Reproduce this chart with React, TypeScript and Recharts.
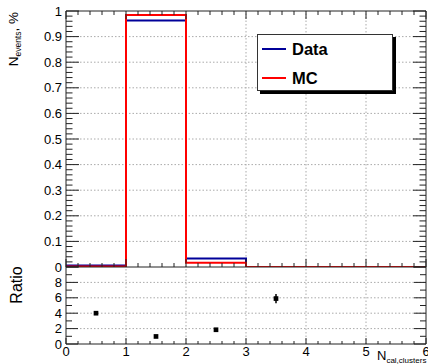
import React from 'react';
import { ComposedChart, Line, XAxis, YAxis, Scatter, ErrorBar, Legend, ZAxis, ReferenceLine } from 'recharts';

// ---- data ----
const binEdges = [0, 1, 2, 3, 4, 5, 6];
const dataValues = [0.006, 0.963, 0.033, 0.0002, 0, 0];
const mcValues = [0.0015, 0.984, 0.017, 0.00003, 0, 0];

const ratioX = [0.5, 1.5, 2.5, 3.5];
const ratioY = [4.0, 0.98, 1.85, 5.9];
const ratioErr = [0.1, 0.02, 0.08, 0.6];

const xMajorTicks = [0, 1, 2, 3, 4, 5, 6];
const topYLabels = ['0', '0.1', '0.2', '0.3', '0.4', '0.5', '0.6', '0.7', '0.8', '0.9', '1'];
const ratioYLabels = ['0', '2', '4', '6', '8'];
const gridX = [1, 2, 3, 4, 5];
const gridTopY = [0.1, 0.2, 0.3, 0.4, 0.5, 0.6, 0.7, 0.8, 0.9];
const gridRatioY = [2, 4, 6, 8];

const FONT = '"Liberation Sans", Arial, Helvetica, sans-serif';
const BLUE = '#000099';
const RED = '#ff0000';
const AXIS = '#222';
const GRID = '#aaa';

// tick positions (axis furniture)
const xMinorTicks = Array.from({ length: 31 }, (_, k) => Math.round(k * 20) / 100);
const topYTicks = Array.from({ length: 51 }, (_, k) => Math.round(k * 2) / 100);
const ratioYTicks = Array.from({ length: 11 }, (_, k) => k);

const histTable = binEdges.map((x, i) => ({
  x,
  data: dataValues[Math.min(i, dataValues.length - 1)],
  mc: mcValues[Math.min(i, mcValues.length - 1)],
}));
const ratioTable = ratioX.map((x, i) => ({ x, y: ratioY[i], err: ratioErr[i] }));

const near = (a: number, b: number) => Math.abs(a - b) < 1e-6;

function makeTick(
  orient: 'left' | 'right' | 'top' | 'bottom',
  isMajor: (v: number) => boolean,
  majorLen: number,
  minorLen: number,
  label?: (v: number) => string | null
) {
  return (props: any) => {
    const x = Number(props.x);
    const y = Number(props.y);
    const v = Number(props.payload.value);
    const len = isMajor(v) ? majorLen : minorLen;
    let x2 = x;
    let y2 = y;
    if (orient === 'left') x2 = x + len;
    else if (orient === 'right') x2 = x - len;
    else if (orient === 'top') y2 = y + len;
    else y2 = y - len;
    const txt = label ? label(v) : null;
    let text = null;
    if (txt !== null && txt !== undefined) {
      if (orient === 'left')
        text = (
          <text x={x - 4} y={y} dy="0.35em" textAnchor="end" fontSize={13} fontFamily={FONT} fill="#000">
            {txt}
          </text>
        );
      else if (orient === 'bottom')
        text = (
          <text x={x} y={y + 3} dy="0.72em" textAnchor="middle" fontSize={13} fontFamily={FONT} fill="#000">
            {txt}
          </text>
        );
    }
    return (
      <g>
        <line x1={x} y1={y} x2={x2} y2={y2} stroke={AXIS} strokeWidth={1} />
        {text}
      </g>
    );
  };
}

const xIsMajor = (v: number) => near(v, Math.round(v));
const topYIsMajor = (v: number) => near(v * 10, Math.round(v * 10));
const ratioYIsMajor = (v: number) => Math.round(v) % 2 === 0;

const topYLabel = (v: number) => (topYIsMajor(v) ? topYLabels[Math.round(v * 10)] : null);
const ratioYLabel = (v: number) => {
  if (!ratioYIsMajor(v)) return null;
  const idx = Math.round(v) / 2;
  return idx < ratioYLabels.length ? ratioYLabels[idx] : null;
};
const xLabel = (v: number) => (xIsMajor(v) ? String(xMajorTicks[Math.round(v)]) : null);

const renderLegend = (props: any) => {
  const payload = props.payload || [];
  return (
    <div
      style={{
        width: 136,
        height: 57,
        boxSizing: 'border-box',
        border: '1px solid #333',
        background: '#fff',
        boxShadow: '3px 3px 0 #000',
        position: 'relative',
        fontFamily: FONT,
        fontWeight: 'bold',
        fontSize: 16.5,
      }}
    >
      {payload.map((e: any, i: number) => (
        <div key={i} style={{ position: 'absolute', left: 4, top: 4 + i * 29, height: 20, width: 125 }}>
          <div style={{ position: 'absolute', left: 0, top: 9, width: 24, height: 2, background: e.color }} />
          <div style={{ position: 'absolute', left: 30, top: 0, lineHeight: '20px', color: '#000' }}>{e.value}</div>
        </div>
      ))}
    </div>
  );
};

const axisCommon = {
  type: 'number' as const,
  allowDataOverflow: true,
  interval: 0 as const,
  tickSize: 0,
  tickMargin: 0,
  tickLine: false,
  axisLine: { stroke: AXIS },
};

const gridLines = (xs: number[], ys: number[]) => [
  ...xs.map((v) => (
    <ReferenceLine key={'gx' + v} xAxisId="b" yAxisId="l" x={v} stroke={GRID} strokeDasharray="1.5 2" ifOverflow="visible" />
  )),
  ...ys.map((v) => (
    <ReferenceLine key={'gy' + v} xAxisId="b" yAxisId="l" y={v} stroke={GRID} strokeDasharray="1.5 2" ifOverflow="visible" />
  )),
];

export default function App() {
  return (
    <div style={{ position: 'absolute', left: 0, top: 0, width: 428, height: 364, background: '#fff', overflow: 'hidden' }}>
      {/* upper panel */}
      <div style={{ position: 'absolute', left: 0, top: 0 }}>
        <ComposedChart width={428} height={280} data={histTable} margin={{ top: 10, right: 1, bottom: 12, left: 0 }}>
          <XAxis {...axisCommon} xAxisId="b" dataKey="x" domain={[0, 6]} ticks={xMinorTicks} height={1} tick={makeTick('bottom', xIsMajor, 8, 4)} />
          <XAxis {...axisCommon} xAxisId="t" orientation="top" domain={[0, 6]} ticks={xMinorTicks} height={1} tick={makeTick('top', xIsMajor, 8, 4)} />
          <YAxis {...axisCommon} yAxisId="l" domain={[0, 1]} ticks={topYTicks} width={66} tick={makeTick('left', topYIsMajor, 13, 6.5, topYLabel)} />
          <YAxis {...axisCommon} yAxisId="r" orientation="right" domain={[0, 1]} ticks={topYTicks} width={1} tick={makeTick('right', topYIsMajor, 13, 6.5)} />
          {gridLines(gridX, gridTopY)}
          <Line
            xAxisId="b"
            yAxisId="l"
            type="stepAfter"
            dataKey="data"
            name="Data"
            stroke={BLUE}
            strokeWidth={2}
            dot={false}
            activeDot={false}
            isAnimationActive={false}
          />
          <Line
            xAxisId="b"
            yAxisId="l"
            type="stepAfter"
            dataKey="mc"
            name="MC"
            stroke={RED}
            strokeWidth={2}
            dot={false}
            activeDot={false}
            isAnimationActive={false}
          />
          <Legend
            layout="vertical"
            align="center"
            verticalAlign="middle"
            wrapperStyle={{ left: 257, top: 34, width: 136, height: 57 }}
            content={renderLegend}
          />
        </ComposedChart>
      </div>

      {/* ratio panel */}
      <div style={{ position: 'absolute', left: 0, top: 256 }}>
        <ComposedChart width={428} height={108} margin={{ top: 10, right: 1, bottom: 19, left: 0 }}>
          <XAxis {...axisCommon} xAxisId="b" dataKey="x" domain={[0, 6]} ticks={xMinorTicks} height={1} tick={makeTick('bottom', xIsMajor, 6, 3, xLabel)} />
          <XAxis {...axisCommon} xAxisId="t" orientation="top" domain={[0, 6]} ticks={xMinorTicks} height={1} axisLine={false} tick={makeTick('top', xIsMajor, 3, 2)} />
          <YAxis {...axisCommon} yAxisId="l" dataKey="y" domain={[0, 10]} ticks={ratioYTicks} width={66} tick={makeTick('left', ratioYIsMajor, 12, 6, ratioYLabel)} />
          <YAxis {...axisCommon} yAxisId="r" orientation="right" domain={[0, 10]} ticks={ratioYTicks} width={1} tick={makeTick('right', ratioYIsMajor, 12, 6)} />
          {gridLines(gridX, gridRatioY)}
          <ZAxis range={[22, 22]} />
          <Scatter xAxisId="b" yAxisId="l" data={ratioTable} dataKey="y" shape="square" fill="#000" isAnimationActive={false}>
            <ErrorBar dataKey="err" direction="y" width={0} stroke="#000" strokeWidth={1.5} />
          </Scatter>
        </ComposedChart>
      </div>

      {/* axis titles */}
      <svg width={428} height={364} style={{ position: 'absolute', left: 0, top: 0, pointerEvents: 'none' }}>
        <text transform="translate(18,12) rotate(-90)" textAnchor="end" fontFamily={FONT} fontSize={13.5} fill="#000">
          N<tspan fontSize={8.5} dy={3}>events</tspan>
          <tspan dy={-3} fontSize={13.5}>, %</tspan>
        </text>
        <text transform="translate(22,285) rotate(-90)" textAnchor="middle" fontFamily={FONT} fontSize={16} fill="#000">
          Ratio
        </text>
        <text x={377} y={360} fontFamily={FONT} fontSize={13} fill="#000">
          N<tspan fontSize={8} dy={2.5}>cal,clusters</tspan>
        </text>
      </svg>
    </div>
  );
}
